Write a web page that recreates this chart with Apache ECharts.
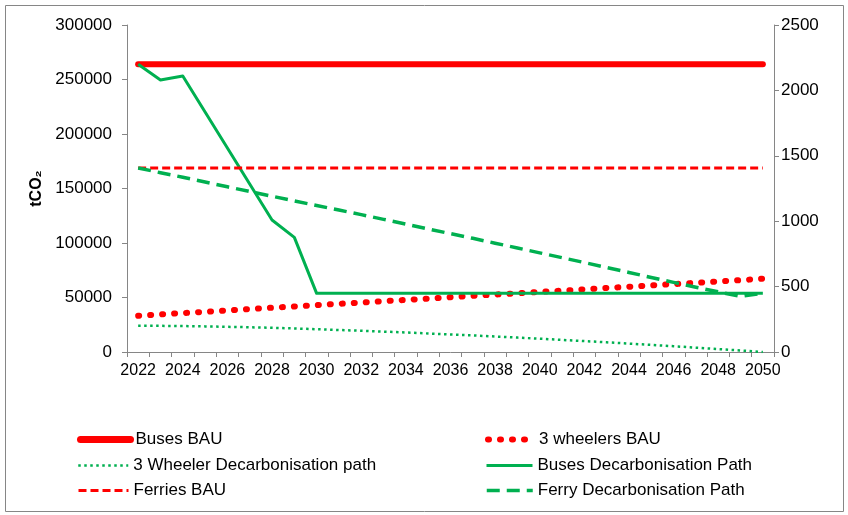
<!DOCTYPE html>
<html>
<head>
<meta charset="utf-8">
<script src="https://cdn.jsdelivr.net/npm/echarts@6/dist/echarts.min.js"></script>
<style>
html,body{margin:0;padding:0;background:#fff;}
#chart{width:848px;height:515px;}
</style>
</head>
<body>
<div id="chart"></div>
<script>
const years = ['2022','2023','2024','2025','2026','2027','2028','2029','2030','2031','2032','2033','2034','2035','2036','2037','2038','2039','2040','2041','2042','2043','2044','2045','2046','2047','2048','2049','2050'];

const busesBAU = [264000,264000,264000,264000,264000,264000,264000,264000,264000,264000,264000,264000,264000,264000,264000,264000,264000,264000,264000,264000,264000,264000,264000,264000,264000,264000,264000,264000,264000];
const threeWheelersBAU = [33300,34500,35700,36900,38100,39400,40600,41800,43000,44200,45400,46600,47800,49000,50300,51500,52700,53900,55100,56300,57500,58700,59900,61100,62300,63500,64700,65900,67200];
const threeWheelerDecarb = [24000,24000,23800,23500,23100,22700,22200,21600,20900,20200,19500,18700,17900,17000,16100,15200,14200,13200,12200,11100,10000,8900,7700,6500,5300,4000,2700,1400,0];
const busesDecarb = [264000,249500,253200,220200,187200,154100,121100,105200,53800,53800,53800,53800,53800,53800,53800,53800,53800,53800,53800,53800,53800,53800,53800,53800,53800,53800,53800,53800,53800];
const ferriesBAU = [1407,1407,1407,1407,1407,1407,1407,1407,1407,1407,1407,1407,1407,1407,1407,1407,1407,1407,1407,1407,1407,1407,1407,1407,1407,1407,1407,1407,1407];
const ferryDecarb = [1407,1371,1336,1300,1263,1227,1191,1155,1120,1085,1050,1014,978,941,905,869,832,795,758,721,684,646,608,570,532,495,460,425,450];

const leftTicks = {min:0, max:300000, interval:50000};
const rightTicks = {min:0, max:2500, interval:500};

const RED = '#FF0000';
const GREEN = '#00B050';
const AXIS = '#868686';
const FONT = '"Liberation Sans", Arial, "DejaVu Sans", sans-serif';

const seriesDefs = [
  {name:'Buses BAU', data:busesBAU, axis:0, color:RED, width:6, type:'solid', cap:'round', lw:7, lx:77, ly:431, iw:50},
  {name:'3 wheelers BAU', data:threeWheelersBAU, axis:0, color:RED, width:6, type:[1,11], cap:'round', lw:6, lx:485, ly:431, iw:46},
  {name:'3 Wheeler Decarbonisation path', data:threeWheelerDecarb, axis:0, color:GREEN, width:2.5, type:[2.5,3.5], cap:'butt', lw:2.5, lx:77, ly:457, iw:50},
  {name:'Buses Decarbonisation Path', data:busesDecarb, axis:0, color:GREEN, width:3, type:'solid', cap:'butt', lw:3, lx:485, ly:457, iw:46},
  {name:'Ferries BAU', data:ferriesBAU, axis:1, color:RED, width:3, type:[8,4], cap:'butt', lw:3, lx:77, ly:482, iw:50},
  {name:'Ferry Decarbonisation Path', data:ferryDecarb, axis:1, color:GREEN, width:3.5, type:[13,7], cap:'butt', lw:3.5, lx:485, ly:482, iw:46}
];

const series = seriesDefs.map(d => ({
  name: d.name,
  type: 'line',
  yAxisIndex: d.axis,
  data: d.data,
  symbol: 'none',
  animation: false,
  color: d.color,
  lineStyle: {color: d.color, width: d.width, type: d.type, cap: d.cap, join: 'round'}
}));

const legends = seriesDefs.map(d => ({
  data: [d.name],
  left: d.lx,
  top: d.ly,
  padding: 0,
  itemWidth: d.iw,
  itemHeight: 14,
  selectedMode: false,
  textStyle: {fontFamily: FONT, fontSize: 17, color: '#000'},
  itemStyle: {opacity: 0},
  lineStyle: {width: d.lw, type: d.type, cap: d.cap, color: d.color}
}));

const plain = v => String(v);

const chart = echarts.init(document.getElementById('chart'), null, {renderer: 'canvas'});
chart.setOption({
  animation: false,
  backgroundColor: '#fff',
  textStyle: {fontFamily: FONT},
  grid: {left: 127, right: 74, top: 25, bottom: 163, containLabel: false},
  legend: legends,
  xAxis: {
    type: 'category',
    data: years,
    boundaryGap: true,
    axisLine: {lineStyle: {color: AXIS, width: 1}},
    axisTick: {show: true, interval: 0, length: 5, lineStyle: {color: AXIS}},
    axisLabel: {interval: 1, margin: 11, color: '#000', fontSize: 16, fontFamily: FONT},
    splitLine: {show: false}
  },
  yAxis: [
    {
      type: 'value', position: 'left',
      min: leftTicks.min, max: leftTicks.max, interval: leftTicks.interval,
      name: 'tCO₂', nameLocation: 'middle', nameGap: 82,
      nameTextStyle: {fontFamily: FONT, fontSize: 16, fontWeight: 'bold', color: '#000'},
      axisLine: {show: true, lineStyle: {color: AXIS, width: 1}},
      axisTick: {show: true, length: 5, lineStyle: {color: AXIS}},
      axisLabel: {margin: 15, color: '#000', fontSize: 17, fontFamily: FONT, formatter: plain},
      splitLine: {show: false}
    },
    {
      type: 'value', position: 'right',
      min: rightTicks.min, max: rightTicks.max, interval: rightTicks.interval,
      axisLine: {show: true, lineStyle: {color: AXIS, width: 1}},
      axisTick: {show: true, length: 5, lineStyle: {color: AXIS}},
      axisLabel: {margin: 7, color: '#000', fontSize: 17, fontFamily: FONT, formatter: plain},
      splitLine: {show: false}
    }
  ],
  graphic: [{
    type: 'rect', left: 3, top: 3, silent: true,
    shape: {width: 838, height: 506},
    style: {fill: 'none', stroke: AXIS, lineWidth: 1}
  }],
  series: series
});
</script>
</body>
</html>
